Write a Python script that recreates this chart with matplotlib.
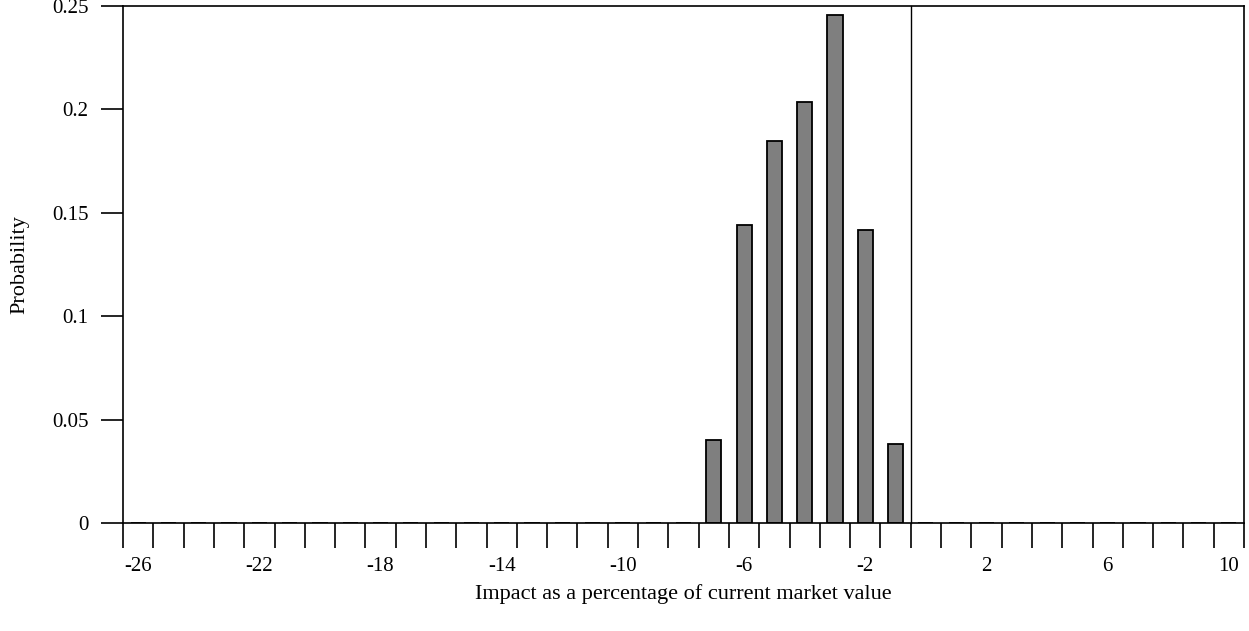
import numpy as np
import matplotlib.pyplot as plt

plt.rcParams['font.family'] = ['Liberation Serif', 'DejaVu Serif']

# Impact buckets (% of current market value) and their probabilities
impact = list(range(-26, 11))
nonzero = {-7: 0.0402, -6: 0.1441, -5: 0.1848, -4: 0.2036,
           -3: 0.2455, -2: 0.1418, -1: 0.0383}
prob = [nonzero.get(v, 0.0) for v in impact]
label_values = list(range(-26, 11, 4))

fig = plt.figure(figsize=(12.49, 6.31), dpi=100, facecolor='w')
ax = fig.add_axes([0.0985, 0.1704, 0.8975, 0.8201])

ax.bar(impact, prob, width=0.5, color='#7f7f7f', edgecolor='black', linewidth=1.3)
ax.axvline(-0.5, color='black', lw=1, clip_on=False)

ax.set_xlim(-26.5, 10.5)
ax.set_ylim(0, 0.25)

# ticks at bucket edges, labels at bucket centres
ax.set_xticks(np.arange(-26.5, 11, 1), minor=True)
ax.set_xticks(label_values)
ax.set_xticklabels([str(v) for v in label_values])
ax.tick_params(axis='x', which='major', length=0, pad=24, labelsize=15)
ax.tick_params(axis='x', which='minor', length=18, width=1.2, direction='out')

ax.set_yticks([0, 0.05, 0.1, 0.15, 0.2, 0.25])
ax.set_yticklabels(['0', '0.05', '0.1', '0.15', '0.2', '0.25'])
ax.tick_params(axis='y', length=16, width=1.2, pad=9, labelsize=15)

for side in ('top', 'bottom', 'left', 'right'):
    ax.spines[side].set_linewidth(1.2)

ax.set_xlabel('Impact as a percentage of current market value', fontsize=16, labelpad=6)
ax.set_ylabel('Probability', fontsize=16, labelpad=16)

fig.savefig('out.png', dpi=100)
